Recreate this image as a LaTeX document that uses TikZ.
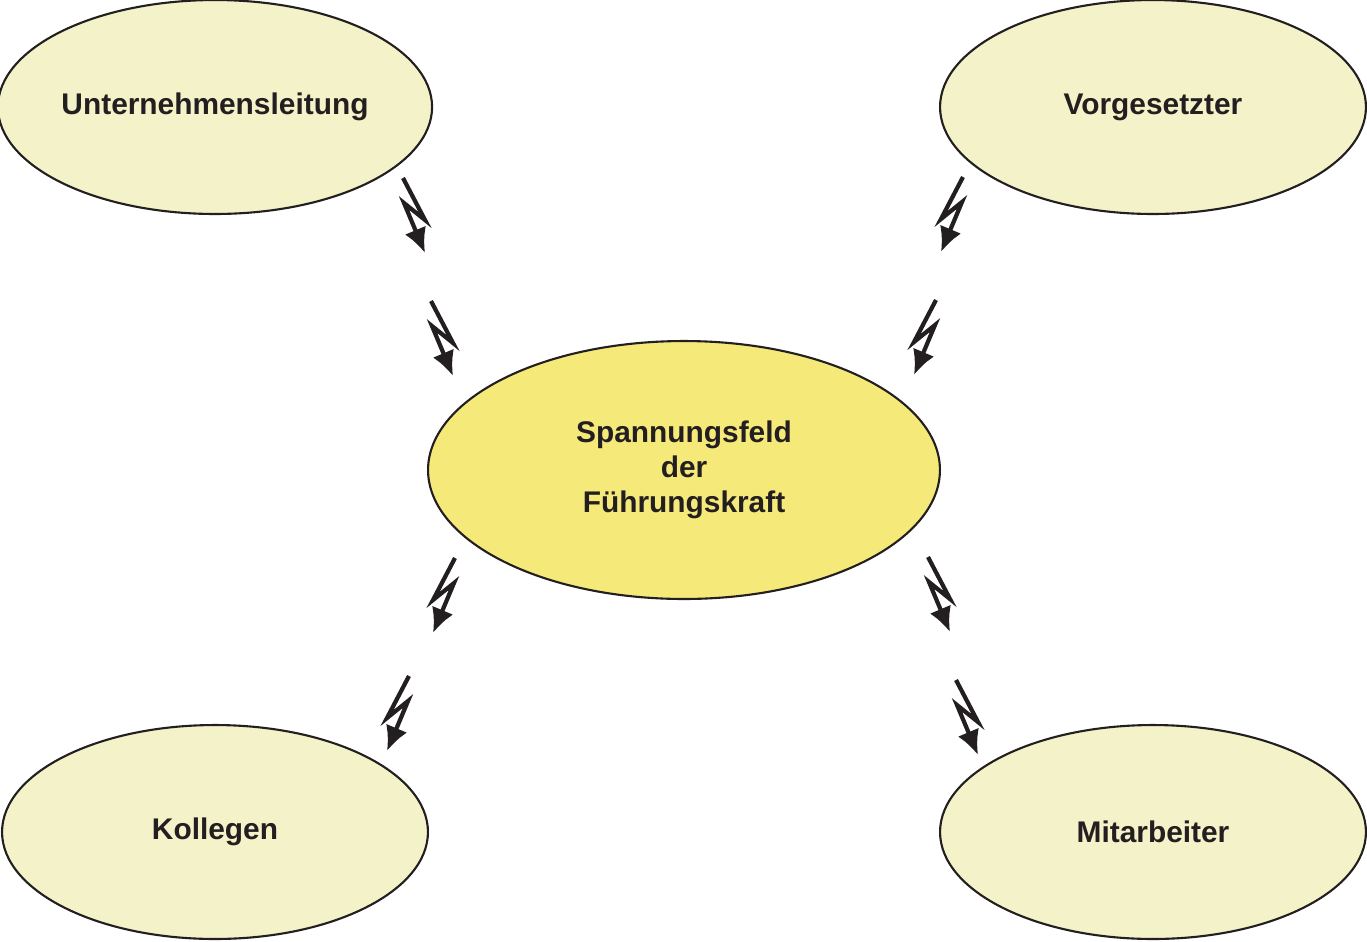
\documentclass[tikz,border=0pt]{standalone}
\usepackage{fontspec}
\setmainfont{Liberation Sans}
\usetikzlibrary{shapes.geometric,arrows.meta}
\definecolor{lite}{HTML}{F3F2C8}
\definecolor{mid}{HTML}{F5E97A}
\definecolor{ink}{HTML}{231F20}
\begin{document}
\begin{tikzpicture}[x=0.02cm,y=-0.02cm,
  ell/.style={ellipse,draw=ink,line width=1.2pt,inner sep=0pt,font=\bfseries\fontsize{17}{20}\selectfont,text=ink,align=center},
  small/.style={ell,fill=lite,minimum width=8.52cm,minimum height=4.28cm},
  bolt/.style={draw=ink,line width=2.4pt,-{Latex[length=14pt,width=13pt]}}]
\useasboundingbox (0,0) rectangle (1367,941);
\node[small] (u) at (215,107) {Unternehmensleitung};
\node[small] (v) at (1153,107) {Vorgesetzter};
\node[small] (k) at (215,832) {Kollegen};
\node[small] (m) at (1153,832) {Mitarbeiter};
\node[ell,fill=mid,minimum width=10.24cm,minimum height=5.16cm] (c) at (684,470) {Spannungsfeld\\der\\Führungskraft};
\newcommand\boltR[1]{\draw[bolt,shift={#1}] (0,0) -- (22,42) -- (1,25) -- (22,75);}
\newcommand\boltL[1]{\draw[bolt,shift={#1}] (0,0) -- (-22,42) -- (-1,25) -- (-22,75);}
\boltR{(403,178)}
\boltR{(431,301)}
\boltL{(963,177)}
\boltL{(936,300)}
\boltL{(455,558)}
\boltL{(409,676)}
\boltR{(928,557)}
\boltR{(956,680)}
\end{tikzpicture}
\end{document}
